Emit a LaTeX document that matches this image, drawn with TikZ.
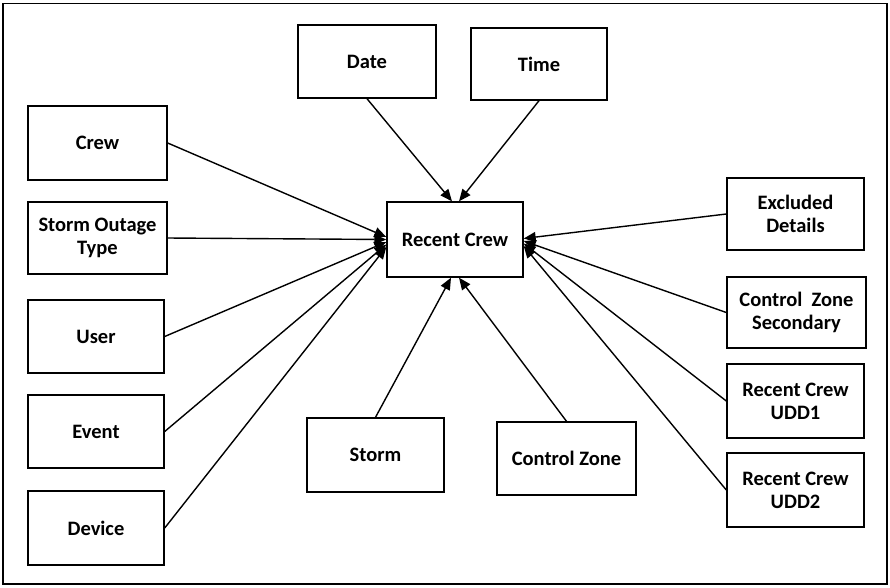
\documentclass[tikz,border=0pt]{standalone}
\usepackage{fontspec}
\setmainfont{Carlito}
\usetikzlibrary{arrows.meta,calc}
\begin{document}
\begin{tikzpicture}[x=1pt,y=-1pt,
  box/.style={draw,line width=1.4pt,rectangle,inner sep=0pt,align=center,
    font=\bfseries\fontsize{20.5}{23}\selectfont},
  arr/.style={line width=1.4pt,-{Triangle[length=12pt,width=10pt]}}]
\useasboundingbox (0,0) rectangle (890,587);
\draw[line width=1.8pt] (3,3.5) rectangle (887,584);
% nodes
\node[box,minimum width=138pt,minimum height=73pt] (date) at (367,61.5) {Date};
\node[box,minimum width=136pt,minimum height=72pt] (time) at (539,64) {Time};
\node[box,minimum width=139pt,minimum height=74pt] (crew) at (97.5,143) {Crew};
\node[box,minimum width=139pt,minimum height=72pt] (sot) at (97.5,238) {Storm Outage\\Type};
\node[box,minimum width=136pt,minimum height=73pt] (user) at (96,336.5) {User};
\node[box,minimum width=136pt,minimum height=73pt] (event) at (96,431.5) {Event};
\node[box,minimum width=136pt,minimum height=74pt] (device) at (96,528) {Device};
\node[box,minimum width=136pt,minimum height=75pt] (rc) at (455,239.5) {Recent Crew};
\node[box,minimum width=137pt,minimum height=74pt] (storm) at (375.5,455) {Storm};
\node[box,minimum width=139pt,minimum height=73pt] (cz) at (566.5,458.5) {Control Zone};
\node[box,minimum width=137pt,minimum height=72pt] (excl) at (795.5,214) {Excluded\\Details};
\node[box,minimum width=139pt,minimum height=71pt] (czs) at (796.5,312.5) {Control\ \ Zone\\Secondary};
\node[box,minimum width=137pt,minimum height=74pt] (udd1) at (795.5,401) {Recent Crew\\UDD1};
\node[box,minimum width=137pt,minimum height=74pt] (udd2) at (795.5,490) {Recent Crew\\UDD2};
% connectors
\draw[arr] (date.south) -- ($(rc.north)+(-3,0)$);
\draw[arr] (time.south) -- ($(rc.north)+(4,0)$);
\draw[arr] (storm.north) -- ($(rc.south)+(-4,0)$);
\draw[arr] (cz.north) -- ($(rc.south)+(4,0)$);
\draw[arr] (crew.east) -- ($(rc.west)+(0,-2.5)$);
\draw[arr] (sot.east) -- ($(rc.west)+(0,0)$);
\draw[arr] (user.east) -- ($(rc.west)+(0,2.5)$);
\draw[arr] (event.east) -- ($(rc.west)+(0,5)$);
\draw[arr] (device.east) -- ($(rc.west)+(0,7.5)$);
\draw[arr] (excl.west) -- ($(rc.east)+(0,-1)$);
\draw[arr] (czs.west) -- ($(rc.east)+(0,1.5)$);
\draw[arr] (udd1.west) -- ($(rc.east)+(0,4)$);
\draw[arr] (udd2.west) -- ($(rc.east)+(0,6.5)$);
\end{tikzpicture}
\end{document}
